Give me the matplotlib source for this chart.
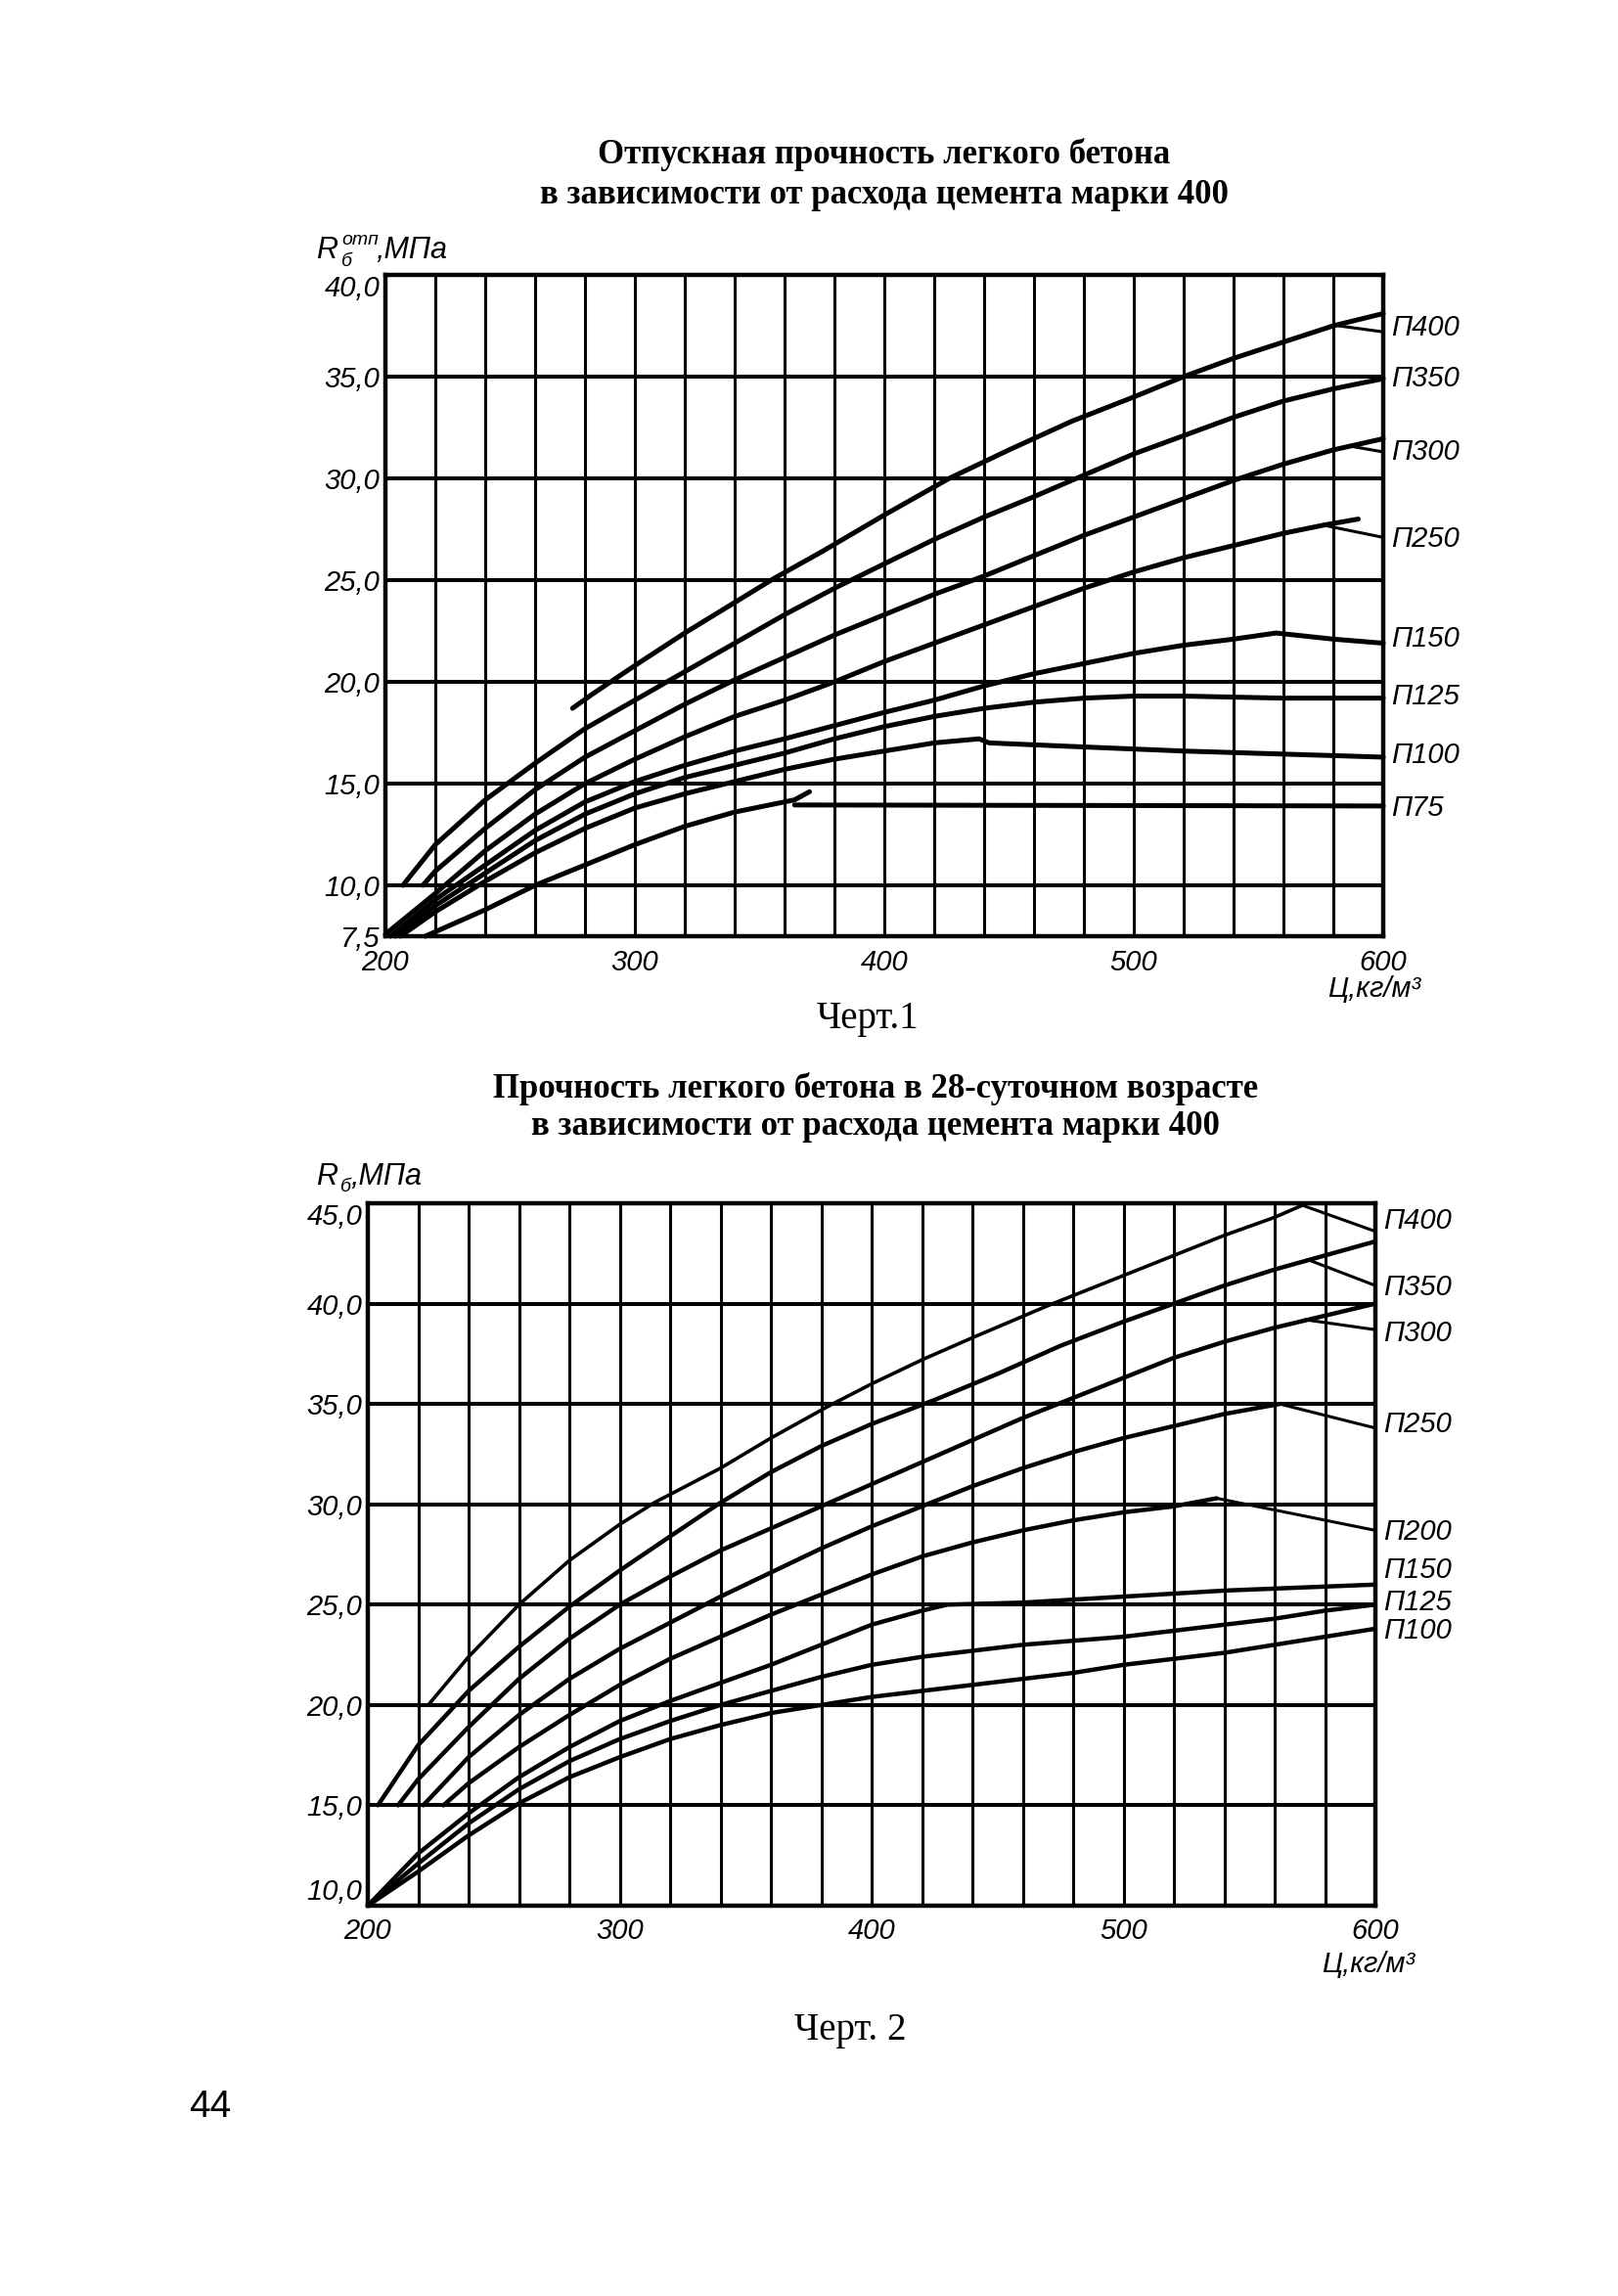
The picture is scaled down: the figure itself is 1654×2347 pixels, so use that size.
import matplotlib.pyplot as plt
from matplotlib.transforms import blended_transform_factory

plt.rcParams.update({
    "font.family": ["Liberation Sans", "DejaVu Sans"],
    "axes.linewidth": 3.0,
    "lines.solid_capstyle": "round",
    "lines.solid_joinstyle": "round",
})

W, H = 1654, 2347

# ---------------- Chart 1: release strength ----------------
c1_p400_x = [275, 283, 300, 320, 340, 356, 375, 400, 426, 450, 475, 500, 520, 540, 560, 580, 600]
c1_p400_y = [18.7, 19.4, 20.8, 22.4, 23.9, 25.1, 26.4, 28.2, 30.0, 31.4, 32.8, 34.0, 35.0, 35.9, 36.7, 37.5, 38.1]
c1_p350_x = [207, 220, 240, 260, 280, 300, 320, 340, 360, 380, 400, 420, 440, 460, 477, 500, 520, 540, 560, 580, 600]
c1_p350_y = [10.0, 12.0, 14.2, 16.0, 17.7, 19.1, 20.5, 21.9, 23.3, 24.6, 25.8, 27.0, 28.1, 29.1, 30.0, 31.2, 32.1, 33.0, 33.8, 34.4, 34.9]
c1_p300_x = [215, 220, 240, 260, 280, 300, 320, 340, 360, 380, 400, 420, 440, 460, 480, 500, 520, 540, 560, 580, 600]
c1_p300_y = [10.0, 10.7, 12.8, 14.7, 16.3, 17.6, 18.9, 20.1, 21.2, 22.3, 23.3, 24.3, 25.2, 26.2, 27.2, 28.1, 29.0, 29.9, 30.7, 31.4, 31.95]
c1_p250_x = [200, 220, 240, 260, 280, 300, 320, 340, 360, 380, 400, 420, 440, 460, 480, 500, 520, 540, 560, 576, 590]
c1_p250_y = [7.6, 9.6, 11.7, 13.5, 15.0, 16.2, 17.3, 18.3, 19.1, 20.0, 21.0, 21.9, 22.8, 23.7, 24.6, 25.4, 26.1, 26.7, 27.3, 27.7, 28.0]
c1_p150_x = [202, 220, 240, 260, 280, 300, 320, 340, 360, 380, 400, 420, 440, 460, 480, 500, 520, 540, 557, 580, 600]
c1_p150_y = [7.5, 9.3, 11.0, 12.7, 14.1, 15.1, 15.9, 16.6, 17.2, 17.85, 18.5, 19.1, 19.8, 20.4, 20.9, 21.4, 21.8, 22.1, 22.4, 22.1, 21.9]
c1_p125_x = [204, 220, 240, 260, 280, 300, 320, 340, 360, 380, 400, 420, 440, 460, 480, 500, 520, 560, 600]
c1_p125_y = [7.5, 9.0, 10.6, 12.2, 13.5, 14.5, 15.3, 15.9, 16.5, 17.2, 17.8, 18.3, 18.7, 19.0, 19.2, 19.3, 19.3, 19.2, 19.2]
c1_p100_x = [206, 220, 240, 260, 280, 300, 320, 340, 360, 380, 400, 420, 438, 442, 480, 520, 560, 600]
c1_p100_y = [7.5, 8.7, 10.2, 11.6, 12.8, 13.8, 14.5, 15.1, 15.7, 16.2, 16.6, 17.0, 17.2, 17.0, 16.8, 16.6, 16.45, 16.3]
c1_p75_x = [216, 240, 260, 280, 300, 320, 340, 356, 364, 370]
c1_p75_y = [7.5, 8.8, 10.0, 11.0, 12.0, 12.9, 13.6, 14.0, 14.2, 14.6]
c1_p75_flat_x = [364, 600]
c1_p75_flat_y = [13.95, 13.9]
# label leaders (from curve to the label at the right border)
c1_lead_p400_x, c1_lead_p400_y = [582, 600], [37.5, 37.2]
c1_lead_p300_x, c1_lead_p300_y = [586, 600], [31.6, 31.3]
c1_lead_p250_x, c1_lead_p250_y = [576, 600], [27.7, 27.1]
c1_names = ["П400", "П350", "П300", "П250", "П150", "П125", "П100", "П75"]
c1_label_y = [37.4, 34.9, 31.3, 27.0, 22.1, 19.3, 16.4, 13.8]
c1_yticks = [7.5, 10, 15, 20, 25, 30, 35, 40]
c1_ylabels = ["7,5", "10,0", "15,0", "20,0", "25,0", "30,0", "35,0", "40,0"]

# ---------------- Chart 2: 28-day strength ----------------
c2_p400_x = [224, 240, 260, 280, 300, 314, 340, 360, 383, 400, 420, 440, 470, 500, 520, 540, 560, 571]
c2_p400_y = [20.0, 22.4, 25.0, 27.2, 29.0, 30.1, 31.8, 33.3, 34.9, 36.0, 37.2, 38.3, 39.9, 41.4, 42.4, 43.4, 44.3, 44.9]
c2_p350_x = [204, 220, 240, 260, 280, 300, 320, 339, 360, 380, 400, 425, 450, 475, 500, 520, 540, 560, 580, 600]
c2_p350_y = [15.0, 18.0, 20.7, 22.9, 24.9, 26.7, 28.4, 30.0, 31.6, 32.9, 34.0, 35.2, 36.5, 37.9, 39.1, 40.0, 40.9, 41.7, 42.4, 43.1]
c2_p300_x = [212, 220, 240, 260, 280, 300, 320, 340, 360, 380, 400, 420, 440, 460, 472, 500, 520, 540, 560, 580, 600]
c2_p300_y = [15.0, 16.3, 18.9, 21.3, 23.3, 25.0, 26.4, 27.7, 28.8, 29.9, 31.0, 32.1, 33.2, 34.3, 34.9, 36.3, 37.3, 38.1, 38.8, 39.4, 40.0]
c2_p250_x = [222, 240, 260, 280, 300, 320, 340, 360, 380, 400, 420, 440, 460, 480, 500, 520, 540, 562]
c2_p250_y = [15.0, 17.4, 19.5, 21.3, 22.8, 24.1, 25.4, 26.6, 27.8, 28.9, 29.9, 30.9, 31.8, 32.6, 33.3, 33.9, 34.5, 35.0]
c2_p200_x = [230, 240, 260, 280, 300, 320, 340, 360, 380, 400, 420, 440, 460, 480, 500, 520, 537]
c2_p200_y = [15.0, 16.1, 17.9, 19.5, 21.0, 22.3, 23.4, 24.5, 25.5, 26.5, 27.4, 28.1, 28.7, 29.2, 29.6, 29.9, 30.3]
c2_p150_x = [200, 220, 240, 260, 280, 300, 320, 340, 360, 380, 400, 420, 430, 460, 500, 540, 580, 600]
c2_p150_y = [10.0, 12.6, 14.6, 16.4, 17.9, 19.2, 20.2, 21.1, 22.0, 23.0, 24.0, 24.7, 25.0, 25.1, 25.4, 25.7, 25.9, 26.0]
c2_p125_x = [200, 220, 240, 260, 280, 300, 320, 340, 360, 380, 400, 420, 440, 460, 480, 500, 520, 540, 560, 580, 600]
c2_p125_y = [10.0, 12.1, 14.1, 15.8, 17.2, 18.3, 19.2, 20.0, 20.7, 21.4, 22.0, 22.4, 22.7, 23.0, 23.2, 23.4, 23.7, 24.0, 24.3, 24.7, 25.0]
c2_p100_x = [200, 220, 240, 260, 280, 300, 320, 340, 360, 380, 400, 420, 440, 460, 480, 500, 520, 540, 560, 580, 600]
c2_p100_y = [10.0, 11.7, 13.5, 15.1, 16.4, 17.4, 18.3, 19.0, 19.6, 20.0, 20.4, 20.7, 21.0, 21.3, 21.6, 22.0, 22.3, 22.6, 23.0, 23.4, 23.8]
c2_lead_p400_x, c2_lead_p400_y = [571, 600], [44.9, 43.6]
c2_lead_p350_x, c2_lead_p350_y = [573, 600], [42.2, 40.9]
c2_lead_p300_x, c2_lead_p300_y = [572, 600], [39.2, 38.7]
c2_lead_p250_x, c2_lead_p250_y = [562, 600], [35.0, 33.8]
c2_lead_p200_x, c2_lead_p200_y = [537, 600], [30.3, 28.7]
c2_names = ["П400", "П350", "П300", "П250", "П200", "П150", "П125", "П100"]
c2_label_y = [44.1, 40.8, 38.5, 34.0, 28.6, 26.7, 25.1, 23.7]
c2_yticks = [10, 15, 20, 25, 30, 35, 40, 45]
c2_ylabels = ["10,0", "15,0", "20,0", "25,0", "30,0", "35,0", "40,0", "45,0"]

xticks = [200, 300, 400, 500, 600]
xlabels = ["200", "300", "400", "500", "600"]

fig = plt.figure(figsize=(W / 100, H / 100), dpi=100)


def px_box(left, top, right, bottom):
    return [left / W, 1 - bottom / H, (right - left) / W, (bottom - top) / H]


def setup(ax, ymin, ymax, yticks, ylabels, hgrid):
    ax.set_xlim(200, 600)
    ax.set_ylim(ymin, ymax)
    for x in range(220, 600, 20):
        ax.axvline(x, color="k", lw=2.2, zorder=1)
    for y in hgrid:
        ax.axhline(y, color="k", lw=2.9, zorder=1)
    ax.set_xticks(xticks)
    ax.set_xticklabels(xlabels, style="italic", fontsize=21)
    ax.set_yticks(yticks)
    ax.set_yticklabels(ylabels, style="italic", fontsize=21)
    ax.tick_params(length=0)
    ax.tick_params(axis="x", pad=9)
    ax.tick_params(axis="y", pad=4)
    for sp in ax.spines.values():
        sp.set_linewidth(3.2)


def curve(ax, x, y, lw):
    ax.plot(x, y, color="k", lw=lw, zorder=3, clip_on=False)


def names(ax, labels, ys):
    tr = blended_transform_factory(ax.transAxes, ax.transData)
    for n, y in zip(labels, ys):
        ax.text(1.008, y, n, transform=tr, fontsize=21, style="italic",
                ha="left", va="center")


# ---- chart 1
ax1 = fig.add_axes(px_box(394, 281, 1414, 957))
setup(ax1, 7.5, 40, c1_yticks, c1_ylabels, [10, 15, 20, 25, 30, 35])
ax1.get_yticklabels()[-1].set_va("top")
for cx, cy in [(c1_p400_x, c1_p400_y), (c1_p350_x, c1_p350_y), (c1_p300_x, c1_p300_y),
               (c1_p250_x, c1_p250_y), (c1_p150_x, c1_p150_y), (c1_p125_x, c1_p125_y),
               (c1_p100_x, c1_p100_y), (c1_p75_x, c1_p75_y), (c1_p75_flat_x, c1_p75_flat_y)]:
    curve(ax1, cx, cy, 3.6)
for cx, cy in [(c1_lead_p400_x, c1_lead_p400_y), (c1_lead_p300_x, c1_lead_p300_y),
               (c1_lead_p250_x, c1_lead_p250_y)]:
    curve(ax1, cx, cy, 2.2)
names(ax1, c1_names, c1_label_y)

# ---- chart 2
ax2 = fig.add_axes(px_box(376, 1230, 1406, 1948))
setup(ax2, 10, 45, c2_yticks, c2_ylabels, [15, 20, 25, 30, 35, 40])
ax2.get_yticklabels()[-1].set_va("top")
ax2.get_yticklabels()[0].set_va("bottom")
for cx, cy in [(c2_p350_x, c2_p350_y), (c2_p300_x, c2_p300_y), (c2_p250_x, c2_p250_y),
               (c2_p200_x, c2_p200_y), (c2_p150_x, c2_p150_y), (c2_p125_x, c2_p125_y),
               (c2_p100_x, c2_p100_y)]:
    curve(ax2, cx, cy, 3.2)
curve(ax2, c2_p400_x, c2_p400_y, 2.6)
for cx, cy in [(c2_lead_p400_x, c2_lead_p400_y), (c2_lead_p350_x, c2_lead_p350_y),
               (c2_lead_p300_x, c2_lead_p300_y), (c2_lead_p250_x, c2_lead_p250_y),
               (c2_lead_p200_x, c2_lead_p200_y)]:
    curve(ax2, cx, cy, 2.2)
names(ax2, c2_names, c2_label_y)


# ---- texts
def ftext(x, y, s, **kw):
    fig.text(x / W, 1 - y / H, s, **kw)


serif = ["Liberation Serif", "DejaVu Serif"]
ftext(904, 158, "Отпускная прочность легкого бетона", family=serif, weight="bold",
      fontsize=25, ha="center", va="center")
ftext(904, 200, "в зависимости от расхода цемента марки 400", family=serif, weight="bold",
      fontsize=25, ha="center", va="center")
ftext(323, 256, "R", style="italic", fontsize=22, ha="left", va="center")
ftext(349, 268, "б", style="italic", fontsize=14, ha="left", va="center")
ftext(349, 245, "отп", style="italic", fontsize=14, ha="left", va="center")
ftext(384, 256, ",МПа", style="italic", fontsize=22, ha="left", va="center")
ftext(1452, 1011, "Ц,кг/м³", style="italic", fontsize=21, ha="right", va="center")
ftext(887, 1042, "Черт.1", family=serif, fontsize=28, ha="center", va="center")

ftext(895, 1113, "Прочность легкого бетона в 28-суточном возрасте", family=serif,
      weight="bold", fontsize=25, ha="center", va="center")
ftext(895, 1151, "в зависимости от расхода цемента марки 400", family=serif,
      weight="bold", fontsize=25, ha="center", va="center")
ftext(323, 1203, "R", style="italic", fontsize=22, ha="left", va="center")
ftext(348, 1214, "б", style="italic", fontsize=14, ha="left", va="center")
ftext(358, 1203, ",МПа", style="italic", fontsize=22, ha="left", va="center")
ftext(1446, 2008, "Ц,кг/м³", style="italic", fontsize=21, ha="right", va="center")
ftext(869, 2076, "Черт. 2", family=serif, fontsize=28, ha="center", va="center")

ftext(215, 2154, "44", fontsize=28, ha="center", va="center")

fig.savefig("out.png", dpi=100, facecolor="white")
